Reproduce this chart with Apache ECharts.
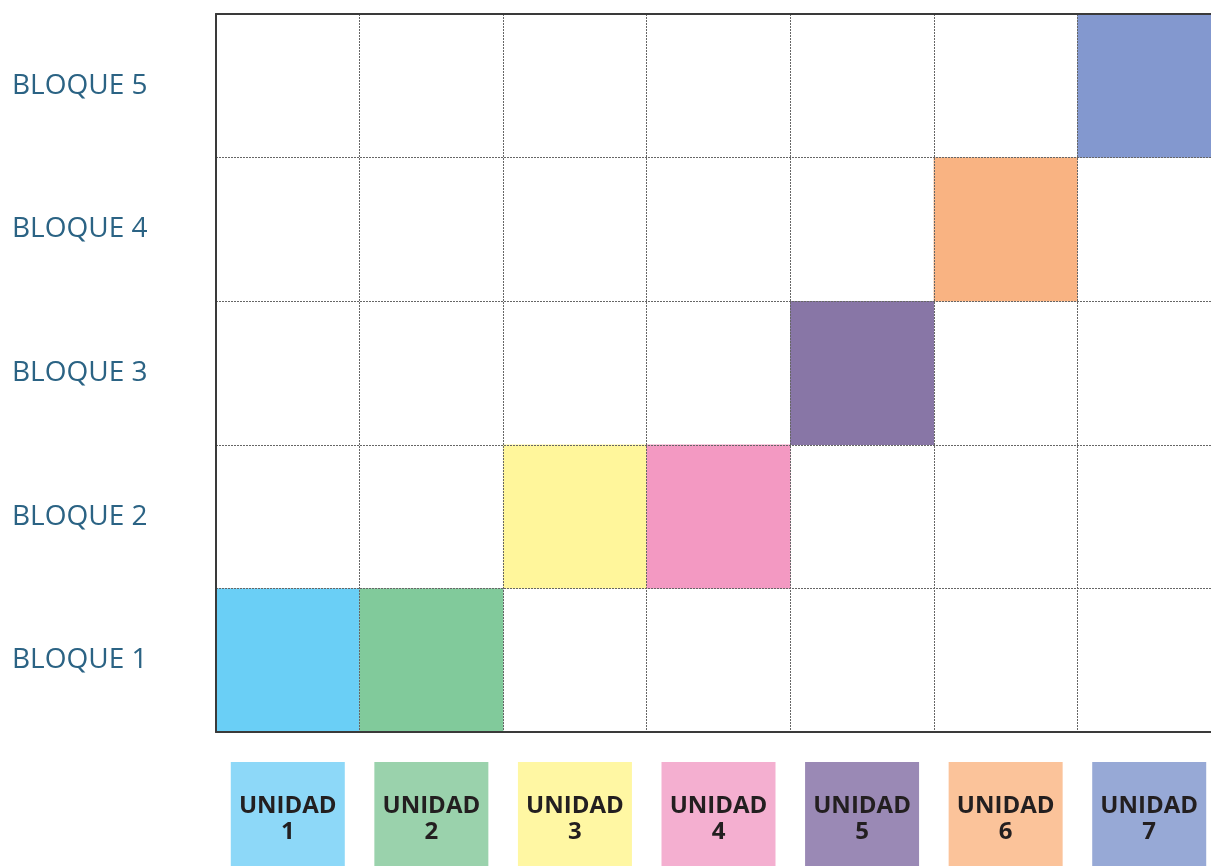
<!DOCTYPE html>
<html>
<head>
<meta charset="utf-8">
<script src="https://cdn.jsdelivr.net/npm/echarts@6/dist/echarts.min.js"></script>
<style>
html,body{margin:0;padding:0;background:#fff;}
#chart{width:1211px;height:866px;}
</style>
</head>
<body>
<div id="chart"></div>
<script>
const unidades = ['UNIDAD\n1','UNIDAD\n2','UNIDAD\n3','UNIDAD\n4','UNIDAD\n5','UNIDAD\n6','UNIDAD\n7'];
const bloques = ['BLOQUE 1','BLOQUE 2','BLOQUE 3','BLOQUE 4','BLOQUE 5'];
// block assigned to each unit (index into bloques)
const bloquePorUnidad = [0, 0, 1, 1, 2, 3, 4];
const cellColors = ['#6ACFF6','#81CA9B','#FFF69B','#F399C2','#8876A6','#F9B382','#8398CF'];
const labelColors = ['#8DD8F8','#9AD2AC','#FFF7A3','#F4AFD0','#9A89B5','#FBC39A','#97A9D6'];

const cellData = bloquePorUnidad.map((b, i) => ({
  value: [i, b, 1],
  itemStyle: { color: cellColors[i] }
}));

const xData = unidades.map((u, i) => ({
  value: u,
  textStyle: { backgroundColor: labelColors[i] }
}));

const chart = echarts.init(document.getElementById('chart'));
chart.setOption({
  animation: false,
  grid: { left: 216, right: -10, top: 14, bottom: 134, outerBoundsMode: 'none', containLabel: false },
  xAxis: [{
    type: 'category',
    data: xData,
    z: 5,
    axisLine: { show: true, lineStyle: { color: '#3a3a3a', width: 2 } },
    axisTick: { show: false },
    splitLine: { show: true, lineStyle: { color: '#666', width: 1, type: [2, 1] } },
    axisLabel: {
      interval: 0,
      margin: 30,
      width: 114,
      align: 'center',
      padding: [31, 0, 31, 0],
      lineHeight: 26,
      fontFamily: 'Open Sans',
      fontWeight: 'bold',
      fontSize: 24,
      color: '#231F20'
    }
  }, {
    type: 'category',
    position: 'top',
    data: xData,
    z: 5,
    axisLine: { show: true, lineStyle: { color: '#3a3a3a', width: 2 } },
    axisTick: { show: false },
    axisLabel: { show: false },
    splitLine: { show: false }
  }],
  yAxis: {
    type: 'category',
    data: bloques,
    z: 5,
    axisLine: { show: true, lineStyle: { color: '#3a3a3a', width: 2 } },
    axisTick: { show: false },
    splitLine: { show: true, lineStyle: { color: '#666', width: 1, type: [2, 1] } },
    axisLabel: {
      align: 'left',
      margin: 204,
      fontFamily: 'Open Sans',
      fontSize: 28,
      color: '#2B6384'
    }
  },
  series: [{
    type: 'heatmap',
    data: cellData,
    itemStyle: { borderWidth: 0 },
    emphasis: { disabled: true },
    label: { show: false }
  }]
});
</script>
</body>
</html>
